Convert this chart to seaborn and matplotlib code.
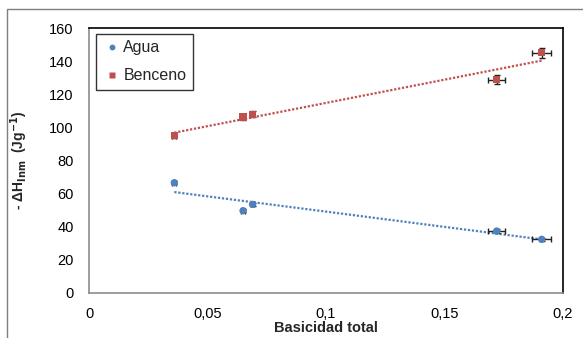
import numpy as np
import pandas as pd
import matplotlib
matplotlib.use("Agg")
import matplotlib.pyplot as plt
from matplotlib.patches import Rectangle
import seaborn as sns

# ---- data ----
basicidad = [0.036, 0.065, 0.069, 0.172, 0.191]
agua = [66.6, 49.7, 53.5, 37.4, 32.4]
benceno = [95.0, 106.3, 107.9, 128.8, 145.1]
x_err = [0.0008, 0.0008, 0.0008, 0.0036, 0.0040]
agua_yerr = [1.0, 1.0, 1.0, 1.0, 1.0]
benceno_yerr = [1.6, 1.6, 1.8, 2.6, 3.0]
series = ["Agua", "Benceno"]
colors = {"Agua": "#4F81BD", "Benceno": "#C0504D"}
yticks = [0, 20, 40, 60, 80, 100, 120, 140, 160]
xticks = [0, 0.05, 0.1, 0.15, 0.2]
xticklabels = ["0", "0,05", "0,1", "0,15", "0,2"]

df = pd.DataFrame({
    "x": basicidad * 2,
    "y": agua + benceno,
    "xerr": x_err * 2,
    "yerr": agua_yerr + benceno_yerr,
    "serie": ["Agua"] * len(agua) + ["Benceno"] * len(benceno),
})

sns.set_theme(style="white")
plt.rcParams["font.family"] = ["Liberation Sans", "DejaVu Sans"]
plt.rcParams["mathtext.default"] = "bf"

fig = plt.figure(figsize=(5.83, 3.38), dpi=100)
ax = fig.add_axes([89 / 583, 1 - 293 / 338, (563 - 89) / 583, (293 - 28) / 338])

# outer chart frame
fig.patches.append(Rectangle((7 / 583, -0.1), 1.2, 1 - 9 / 338 + 0.1,
                             transform=fig.transFigure, fill=False,
                             edgecolor="#7f7f7f", linewidth=1.0, zorder=0))

# trend lines
for s in series:
    sub = df[df["serie"] == s]
    sns.regplot(data=sub, x="x", y="y", ax=ax, scatter=False, ci=None,
                truncate=True,
                line_kws={"color": colors[s], "linestyle": (0, (1, 0.8)),
                          "linewidth": 1.6, "zorder": 2})

# error bars
for s in series:
    sub = df[df["serie"] == s]
    ax.errorbar(sub["x"], sub["y"], xerr=sub["xerr"], yerr=sub["yerr"],
                fmt="none", ecolor="#222222", elinewidth=1.0, capsize=2.5,
                capthick=1.0, zorder=3)

sns.scatterplot(data=df, x="x", y="y", hue="serie", style="serie",
                markers={"Agua": "o", "Benceno": "s"},
                palette=colors, s=28, edgecolor="none", ax=ax, zorder=4)

ax.set_xlim(0, 0.2)
ax.set_ylim(0, 160)
ax.set_xticks(xticks)
ax.set_xticklabels(xticklabels)
ax.set_yticks(yticks)
ax.tick_params(axis="both", length=0, labelsize=10.5, colors="black")
ax.tick_params(axis="y", pad=11)
ax.tick_params(axis="x", pad=10)

for side in ["left", "bottom"]:
    ax.spines[side].set_color("#8c8c8c")
    ax.spines[side].set_linewidth(1.2)
for side in ["top", "right"]:
    ax.spines[side].set_color("black")
    ax.spines[side].set_linewidth(1.2)

ax.set_xlabel("Basicidad total", fontsize=10.5, fontweight="bold", labelpad=0)
ax.set_ylabel(r"- ΔH$_{Inm}$  (Jg$^{-1}$)", fontsize=10, fontweight="bold",
              labelpad=14)

leg = ax.legend(title=None, loc="upper left", bbox_to_anchor=(0.015, 0.977),
                borderaxespad=0, frameon=True, fancybox=False, fontsize=11.5,
                labelspacing=0.8, handletextpad=0.1, borderpad=0.4,
                handlelength=1.2, markerscale=0.8)
leg.get_frame().set_edgecolor("black")
leg.get_frame().set_linewidth(1.0)

fig.savefig("out.png", dpi=100)
